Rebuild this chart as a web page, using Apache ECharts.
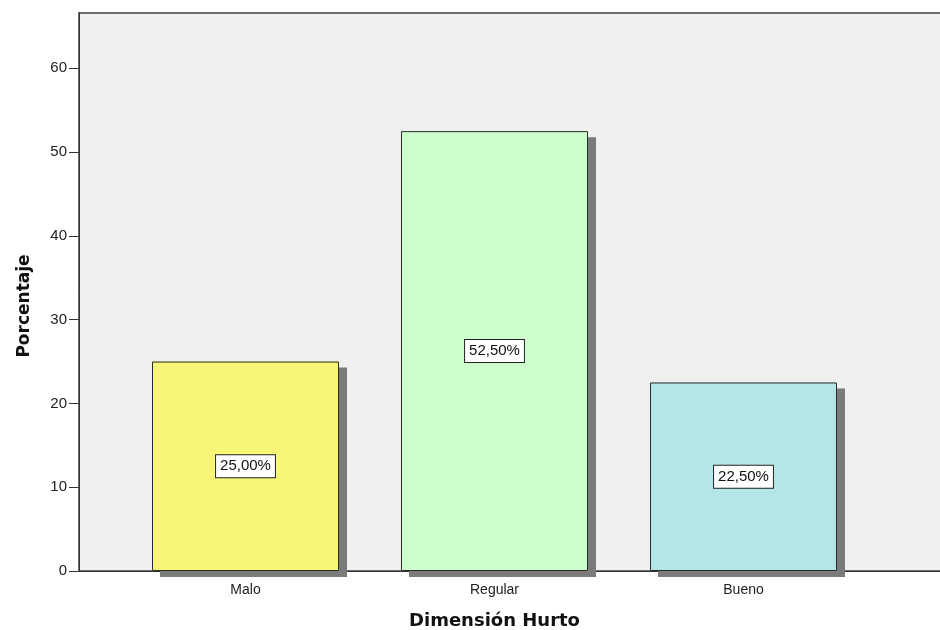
<!DOCTYPE html>
<html>
<head>
<meta charset="utf-8">
<script src="https://cdn.jsdelivr.net/npm/echarts@6/dist/echarts.min.js"></script>
<style>
  html, body { margin: 0; padding: 0; background: #ffffff; }
  #chart { width: 940px; height: 630px; }
</style>
</head>
<body>
<div id="chart"></div>
<script>
// Distribución porcentual de la Dimensión Hurto
const categories = ['Malo', 'Regular', 'Bueno'];
const percentages = [25.0, 52.5, 22.5];
const barColors = ['#f8f677', '#ccffcc', '#b3e6e7'];
const yTicks = [0, 10, 20, 30, 40, 50, 60];
const yMax = 66.6;

const fmtPct = v => v.toFixed(2).replace('.', ',') + '%';

const chart = echarts.init(document.getElementById('chart'), null, { renderer: 'canvas' });

const barData = percentages.map((v, i) => ({ value: v, itemStyle: { color: barColors[i] } }));

chart.setOption({
  animation: false,
  backgroundColor: '#ffffff',
  grid: [
    // frame with grey background (extends past the right edge)
    { left: 79, top: 13, right: -20, bottom: 59, show: true, outerBoundsMode: 'none',
      backgroundColor: '#f0f0f0', borderColor: '#6e6e6e', borderWidth: 2 },
    // bars
    { left: 121, top: 13, right: 72, bottom: 59, outerBoundsMode: 'none' }
  ],
  xAxis: [
    { type: 'category', gridIndex: 0, data: [''],
      axisLine: { show: true, lineStyle: { color: '#333333', width: 1 } },
      axisTick: { show: false }, axisLabel: { show: false } },
    { type: 'category', gridIndex: 1, data: categories,
      axisLine: { show: false },
      axisTick: { show: true, alignWithLabel: true, length: 4, lineStyle: { color: '#888888' } },
      axisLabel: { show: true, margin: 12, fontSize: 14, color: '#222222',
        fontFamily: 'Liberation Sans, Arial, sans-serif' },
      name: 'Dimensión Hurto', nameLocation: 'middle', nameGap: 41,
      nameTextStyle: { fontSize: 18, fontWeight: 'bold', color: '#111111',
        fontFamily: 'DejaVu Sans, sans-serif' } }
  ],
  yAxis: [
    { type: 'value', gridIndex: 0, min: 0, max: yMax, interval: 10,
      axisLine: { show: true, lineStyle: { color: '#333333', width: 1 } },
      axisTick: { show: true, length: 10, customValues: yTicks, lineStyle: { color: '#333333' } },
      axisLabel: { show: true, margin: 12, fontSize: 15, color: '#222222', customValues: yTicks,
        fontFamily: 'Liberation Sans, Arial, sans-serif' },
      splitLine: { show: false },
      name: 'Porcentaje', nameLocation: 'middle', nameGap: 46, nameRotate: 90,
      nameTextStyle: { fontSize: 17, fontWeight: 'bold', color: '#111111',
        fontFamily: 'DejaVu Sans, sans-serif', padding: [0, 28, 0, 0] } },
    { type: 'value', gridIndex: 1, min: 0, max: yMax, interval: 10, show: false,
      splitLine: { show: false } }
  ],
  series: [
    // drop shadow layer
    {
      type: 'bar',
      xAxisIndex: 1,
      yAxisIndex: 1,
      clip: false,
      barWidth: 187,
      data: barData,
      silent: true,
      itemStyle: {
        borderWidth: 0,
        shadowColor: '#7b7b7b',
        shadowBlur: 0,
        shadowOffsetX: 8,
        shadowOffsetY: 6
      }
    },
    // bars with outline and value labels
    {
      type: 'bar',
      xAxisIndex: 1,
      yAxisIndex: 1,
      clip: false,
      barWidth: 187,
      barGap: '-100%',
      data: barData,
      itemStyle: {
        borderColor: '#2a2a2a',
        borderWidth: 1
      },
      label: {
        show: true,
        position: 'inside',
        formatter: p => fmtPct(p.value),
        backgroundColor: '#ffffff',
        borderColor: '#222222',
        borderWidth: 1,
        padding: [4, 4, 3, 4],
        fontSize: 15,
        color: '#111111',
        fontFamily: 'Liberation Sans, Arial, sans-serif'
      }
    }
  ]
});
</script>
</body>
</html>
